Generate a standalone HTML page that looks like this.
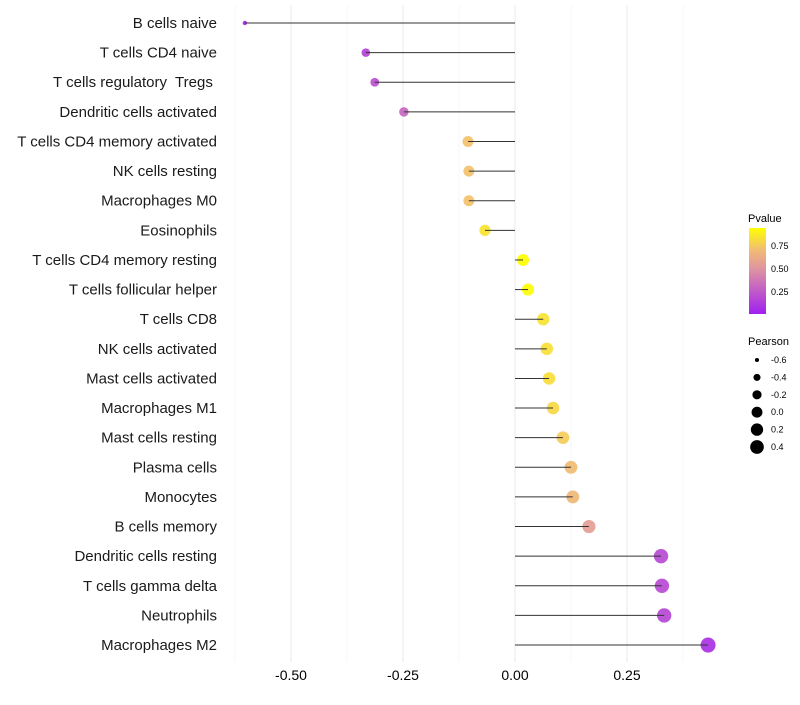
<!DOCTYPE html>
<html><head><meta charset="utf-8"><style>body{margin:0;background:#fff}svg{font-family:"Liberation Sans",sans-serif}#ylabels text{white-space:pre}</style></head>
<body>
<svg id="chart" width="800" height="700" xmlns="http://www.w3.org/2000/svg">
<defs><linearGradient id="pg" x1="0" y1="1" x2="0" y2="0">
<stop offset="0" stop-color="#a020f0"/><stop offset="0.5" stop-color="#dc8fa5"/><stop offset="0.75" stop-color="#f2bd72"/><stop offset="1" stop-color="#ffff00"/></linearGradient></defs>
<g id="grid"></g>
<g id="points"></g>
<g id="marks"></g>
<g id="ylabels"></g>
<g id="xlabels"></g>
<g>
<text x="748" y="222" font-size="11">Pvalue</text>
<rect x="749" y="228" width="17" height="86" fill="url(#pg)"/>
<text x="771" y="249" font-size="9">0.75</text>
<text x="771" y="272" font-size="9">0.50</text>
<text x="771" y="295" font-size="9">0.25</text>
</g>
<g id="sizeleg">
<text x="748" y="345" font-size="11">Pearson</text>
</g>
</svg>
<script>
const categories=["B cells naive","T cells CD4 naive","T cells regulatory  Tregs ","Dendritic cells activated","T cells CD4 memory activated","NK cells resting","Macrophages M0","Eosinophils","T cells CD4 memory resting","T cells follicular helper","T cells CD8","NK cells activated","Mast cells activated","Macrophages M1","Mast cells resting","Plasma cells","Monocytes","B cells memory","Dendritic cells resting","T cells gamma delta","Neutrophils","Macrophages M2"];
const pearson=[-0.603,-0.333,-0.313,-0.248,-0.105,-0.103,-0.103,-0.067,0.018,0.029,0.063,0.071,0.076,0.085,0.107,0.125,0.129,0.165,0.326,0.328,0.333,0.431];
const pvalue=[0.02,0.15,0.2,0.3,0.72,0.72,0.72,0.84,0.94,0.93,0.84,0.83,0.82,0.8,0.76,0.7,0.68,0.55,0.18,0.18,0.17,0.07];
const xTicks=[-0.5,-0.25,0,0.25];
const xTickLabels=["-0.50","-0.25","0.00","0.25"];
const sizeBreaks=[-0.6,-0.4,-0.2,0.0,0.2,0.4];
const NS="http://www.w3.org/2000/svg";
const X=v=>515+v*448;
const Y=i=>23+i*29.62;
const R=v=>Math.sqrt(Math.max(1,5+(v+0.6)*50));
const stops=[[0,[160,32,240]],[0.5,[220,143,165]],[0.75,[242,189,114]],[1,[255,255,0]]];
function col(p){const t=Math.min(1,p/0.94);for(let s=1;s<stops.length;s++){if(t<=stops[s][0]){const [t0,a]=stops[s-1],[t1,b]=stops[s];const u=(t-t0)/(t1-t0);return `rgb(${a.map((x,k)=>Math.round(x+(b[k]-x)*u))})`;}}return 'rgb(255,255,0)';}
function mk(tag,at,parent){const e=document.createElementNS(NS,tag);for(const k in at)e.setAttribute(k,at[k]);parent.appendChild(e);return e;}
const grid=document.getElementById('grid'),pts=document.getElementById('points'),marks=document.getElementById('marks'),yl=document.getElementById('ylabels'),xl=document.getElementById('xlabels'),sl=document.getElementById('sizeleg');
[-0.625,-0.375,-0.125,0.125,0.375].forEach(v=>{const l=mk('line',{x1:X(v),x2:X(v),y1:5,y2:662,stroke:'#f2f2f2','stroke-width':0.6},grid);

});
xTicks.forEach((v,i)=>{const l=mk('line',{x1:X(v),x2:X(v),y1:5,y2:662,stroke:'#ebebeb','stroke-width':1.1},grid);


const t=mk('text',{x:X(v),y:680,'font-size':14,'text-anchor':'middle',fill:'#000'},xl);t.textContent=xTickLabels[i];

});
categories.forEach((c,i)=>{const y=Y(i);
const t=mk('text',{x:217,y:y+5,'font-size':15,'text-anchor':'end',fill:'#1a1a1a'},yl);t.textContent=c;


const d=mk('circle',{cx:X(pearson[i]),cy:y,r:R(pearson[i]),fill:col(pvalue[i]),'fill-opacity':0.92},pts);


const l=mk('line',{x1:X(0),x2:X(pearson[i]),y1:y,y2:y,stroke:'#333','stroke-width':1},marks);

});
sizeBreaks.forEach((v,i)=>{const y=360+i*17.4;
const d=mk('circle',{cx:757,cy:y,r:R(v)*0.92,fill:'#000'},sl);


const t=mk('text',{x:771,y:y+3,'font-size':9},sl);t.textContent=v.toFixed(1);

});
</script>
</body></html>
